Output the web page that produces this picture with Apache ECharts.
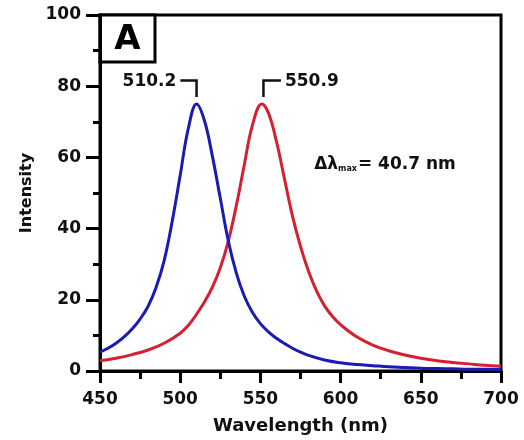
<!DOCTYPE html>
<html>
<head>
<meta charset="utf-8">
<script src="https://cdn.jsdelivr.net/npm/echarts@6/dist/echarts.min.js"></script>
<style>html,body{margin:0;padding:0;background:#fff}#c{width:524px;height:440px}</style>
</head>
<body>
<div id="c"></div>
<script>
// Data
const blueWavelengths = [450,455,460,465,470,475,480,485,490,495,500,505,510.2,515,520,525,530,535,540,545,550,555,560,565,570,575,580,590,600,610,620,630,640,650,660,670,680,690,700];
const blueIntensity   = [5.3,6.4,7.8,9.6,11.8,14.6,18.2,23.5,31,42,55,68,75,70.5,60.5,48.5,36.5,27.5,21,16.5,13.3,11,9.2,7.7,6.4,5.3,4.4,3.1,2.3,1.8,1.5,1.2,1.0,0.8,0.7,0.6,0.5,0.5,0.4];
const redWavelengths  = [450,460,470,480,490,500,505,510,515,520,525,530,535,540,545,550.9,555,560,565,570,575,580,585,590,595,600,610,620,630,640,650,660,670,680,690,700];
const redIntensity    = [2.9,3.6,4.6,5.9,7.8,10.6,12.8,15.8,19.3,23.5,29,36.5,46.5,58,69,75,72.5,64.5,54,43.5,35,28,22.5,18.3,15.3,13,9.6,7.3,5.7,4.5,3.6,2.9,2.4,2.0,1.6,1.3];
const xTicks = [450,500,550,600,650,700];
const yTicks = [0,20,40,60,80,100];
const peakBlue = 510.2, peakRed = 550.9;
const peakLabels = ['510.2','550.9'];
const deltaText = '40.7 nm';

const FONT = 'DejaVu Sans';
const blueData = blueWavelengths.map((x,i)=>[x,blueIntensity[i]]);
const redData = redWavelengths.map((x,i)=>[x,redIntensity[i]]);

const chart = echarts.init(document.getElementById('c'), null, {renderer:'canvas'});
const axisCommon = {
  axisLine:{show:true,lineStyle:{color:'#000',width:3}},
  splitLine:{show:false},
};
chart.setOption({
  animation:false,
  backgroundColor:'#fff',
  grid:{left:100,right:23,top:15,bottom:67,show:true,borderColor:'#000',borderWidth:3,backgroundColor:'transparent'},
  xAxis:{type:'value',min:xTicks[0],max:xTicks[xTicks.length-1],interval:50,
    ...axisCommon,
    axisTick:{show:true,inside:false,length:12,lineStyle:{color:'#000',width:3}},
    minorTick:{show:true,splitNumber:2,length:8,lineStyle:{color:'#000',width:3}},
    axisLabel:{color:'#111',fontFamily:FONT,fontWeight:'bold',fontSize:17,margin:20},
    name:'Wavelength (nm)',nameLocation:'middle',nameGap:46,
    nameTextStyle:{color:'#111',fontFamily:FONT,fontWeight:'bold',fontSize:18}
  },
  yAxis:{type:'value',min:yTicks[0],max:yTicks[yTicks.length-1],interval:20,
    ...axisCommon,
    axisTick:{show:true,inside:false,length:14,lineStyle:{color:'#000',width:3}},
    minorTick:{show:true,splitNumber:2,length:7,lineStyle:{color:'#000',width:3}},
    axisLabel:{color:'#111',fontFamily:FONT,fontWeight:'bold',fontSize:17,margin:19},
    name:'Intensity',nameLocation:'middle',nameGap:65,nameRotate:90,
    nameTextStyle:{color:'#111',fontFamily:FONT,fontWeight:'bold',fontSize:16}
  },
  series:[
    {type:'line',data:blueData,smooth:0.4,showSymbol:false,lineStyle:{color:'#1a1ab4',width:3},z:3},
    {type:'line',data:redData,smooth:0.4,showSymbol:false,lineStyle:{color:'#d42030',width:3},z:2}
  ]
});

function px(x,y){return chart.convertToPixel({gridIndex:0},[x,y]);}
const bracketY = 81.6, bracketBottom = 77;
const b1 = px(500.1,bracketY), b2 = px(peakBlue,bracketY), b3 = px(peakBlue,bracketBottom);
const r1 = px(peakRed+1,bracketBottom), r2 = px(peakRed+1,bracketY), r3 = px(562.8,bracketY);
const corner = px(xTicks[0], yTicks[yTicks.length-1]);
const deltaPos = px(583.5, 58);
const textStyleBase = {fill:'#111',fontFamily:FONT,fontWeight:'bold',fontSize:17};
chart.setOption({
  graphic:[
    {type:'polyline',shape:{points:[b1,b2,b3]},style:{stroke:'#111',lineWidth:2.5,fill:null}},
    {type:'polyline',shape:{points:[r1,r2,r3]},style:{stroke:'#111',lineWidth:2.5,fill:null}},
    {type:'text',x:b1[0]-4,y:b1[1]+1,style:{...textStyleBase,text:peakLabels[0],align:'right',verticalAlign:'middle'}},
    {type:'text',x:r3[0]+4,y:r3[1]+1,style:{...textStyleBase,text:peakLabels[1],align:'left',verticalAlign:'middle'}},
    {type:'rect',shape:{x:corner[0],y:corner[1],width:55,height:47},style:{stroke:'#000',lineWidth:3,fill:'#fff'}},
    {type:'text',x:corner[0]+27.5,y:corner[1]+25,style:{fill:'#000',fontFamily:FONT,fontWeight:'bold',fontSize:34,text:'A',align:'center',verticalAlign:'middle'}},
    {type:'text',x:deltaPos[0],y:deltaPos[1],style:{
      text:'{a|Δλ}{s|max}{a|= '+deltaText+'}',align:'left',verticalAlign:'middle',
      rich:{a:{fill:'#111',fontFamily:FONT,fontWeight:'bold',fontSize:17,verticalAlign:'bottom'},
            s:{fill:'#111',fontFamily:FONT,fontWeight:'bold',fontSize:8,verticalAlign:'bottom',padding:[0,1,0,0]}}
    }}
  ]
});
</script>
</body>
</html>
